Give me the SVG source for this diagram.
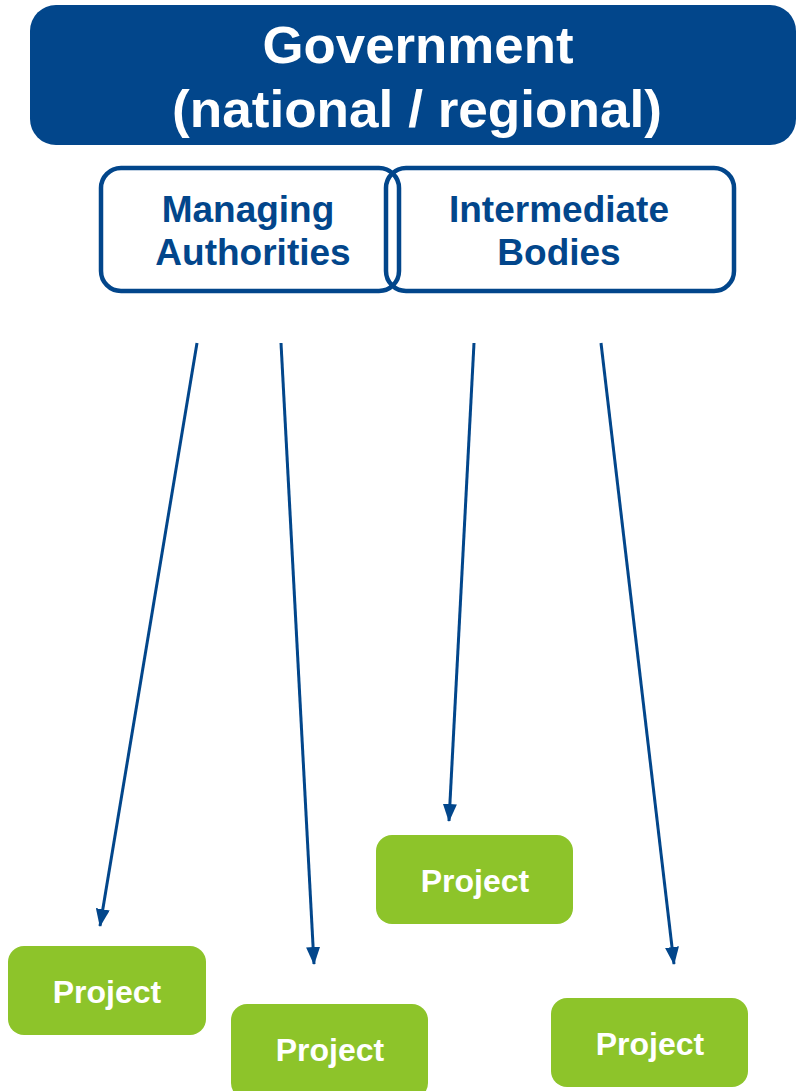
<svg xmlns="http://www.w3.org/2000/svg" width="797" height="1091" viewBox="0 0 797 1091">
<defs>
<style>
.gov{fill:#02468B}
.gt{font-family:"Liberation Sans",Arial,sans-serif;font-weight:bold;fill:#fff;text-anchor:middle}
.ob{fill:none;stroke:#02468B;stroke-width:4.5}
.ot{font-family:"Liberation Sans",Arial,sans-serif;font-weight:bold;fill:#02468B;text-anchor:middle;font-size:37px}
.pb{fill:#8DC42A}
.pt{font-family:"Liberation Sans",Arial,sans-serif;font-weight:bold;fill:#fff;text-anchor:middle;font-size:32px}
.con{stroke:#02468B;stroke-width:3;fill:none;marker-end:url(#arr)}
</style>
<marker id="arr" markerUnits="userSpaceOnUse" markerWidth="18" markerHeight="14" refX="17" refY="7" orient="auto" viewBox="0 0 18 14">
<path d="M0,0 L18,7 L0,14 z" fill="#02468B"/>
</marker>
</defs>
<rect width="797" height="1091" fill="#fff"/>
<g id="government">
<rect class="gov" x="30" y="5" width="766" height="140" rx="26"/>
<text class="gt" x="418" y="63" font-size="52" textLength="311" lengthAdjust="spacingAndGlyphs">Government</text>
<text class="gt" x="417" y="127" font-size="52" textLength="490" lengthAdjust="spacingAndGlyphs">(national / regional)</text>
</g>
<g id="managing-authorities">
<rect class="ob" x="101" y="168" width="298" height="123" rx="20"/>
<text class="ot" x="248" y="222">Managing</text>
<text class="ot" x="253" y="265">Authorities</text>
</g>
<g id="intermediate-bodies">
<rect class="ob" x="386" y="168" width="348" height="123" rx="20"/>
<text class="ot" x="559" y="222">Intermediate</text>
<text class="ot" x="559" y="265">Bodies</text>
</g>
<g id="connectors">
<line class="con" x1="197" y1="343" x2="100" y2="926"/>
<line class="con" x1="281" y1="343" x2="314" y2="964"/>
<line class="con" x1="474" y1="343" x2="449" y2="821"/>
<line class="con" x1="601" y1="343" x2="674" y2="964"/>
</g>
<g id="project-1">
<rect class="pb" x="8" y="946" width="198" height="89" rx="16"/>
<text class="pt" x="107" y="1003">Project</text>
</g>
<g id="project-2">
<rect class="pb" x="231" y="1004" width="197" height="95" rx="16"/>
<text class="pt" x="330" y="1061">Project</text>
</g>
<g id="project-3">
<rect class="pb" x="376" y="835" width="197" height="89" rx="16"/>
<text class="pt" x="475" y="892">Project</text>
</g>
<g id="project-4">
<rect class="pb" x="551" y="998" width="197" height="89" rx="16"/>
<text class="pt" x="650" y="1055">Project</text>
</g>
</svg>
